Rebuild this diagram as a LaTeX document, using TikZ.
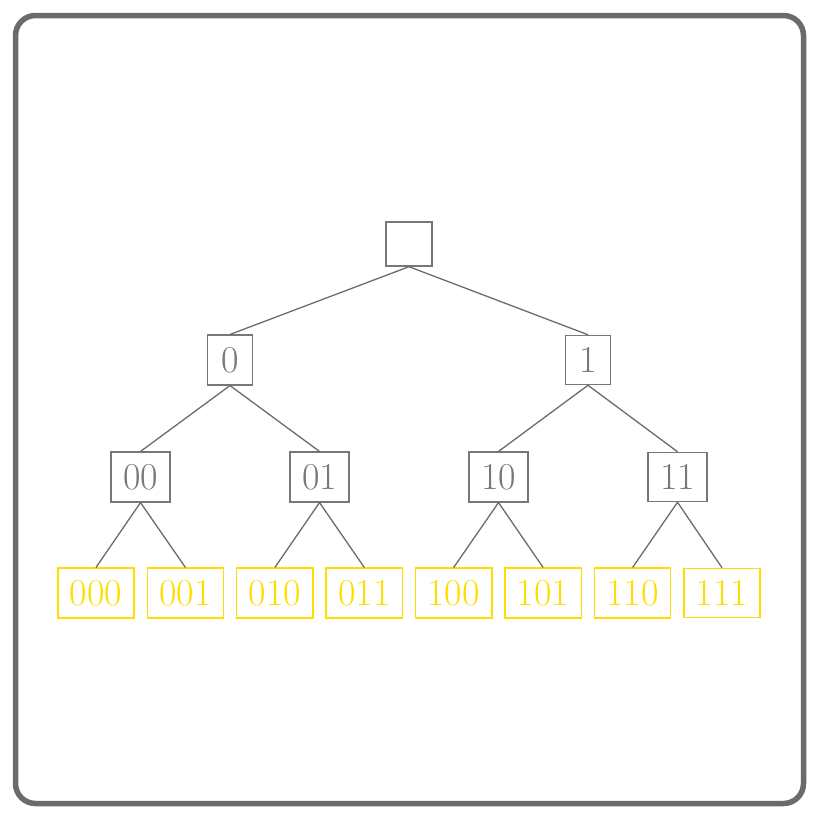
\documentclass[tikz,border=0pt]{standalone}
\usepackage{tikz}
\definecolor{framegray}{HTML}{6B6B6B}
\definecolor{nodegray}{HTML}{777777}
\definecolor{leafyellow}{HTML}{FFDD00}
\begin{document}
\begin{tikzpicture}[x=1pt,y=-1pt,
  treebox/.style={draw=nodegray, text=nodegray, line width=1.4pt, inner sep=12pt,
    font=\fontsize{38}{45}\selectfont},
  leafbox/.style={draw=leafyellow, text=leafyellow, line width=1.4pt, inner sep=12pt,
    font=\fontsize{38}{45}\selectfont},
  branch/.style={draw=framegray, line width=1.3pt}]
\useasboundingbox (0,0) rectangle (819,819);
\draw[framegray, line width=5.5pt, rounded corners=20pt] (15.5,15.5) rectangle (803.5,803.5);

% root and inner levels
\node[treebox, minimum width=46pt, minimum height=44pt] (r) at (409,244) {};
\node[treebox, minimum width=45pt] (n0) at (230,360) {0};
\node[treebox, minimum width=45pt] (n1) at (588,360) {1};
\node[treebox] (n00) at (140.5,477) {00};
\node[treebox] (n01) at (319.5,477) {01};
\node[treebox] (n10) at (498.5,477) {10};
\node[treebox] (n11) at (677.5,477) {11};

% leaves
\node[leafbox] (l000) at (96,593) {000};
\node[leafbox] (l001) at (185.4,593) {001};
\node[leafbox] (l010) at (274.9,593) {010};
\node[leafbox] (l011) at (364.3,593) {011};
\node[leafbox] (l100) at (453.7,593) {100};
\node[leafbox] (l101) at (543.1,593) {101};
\node[leafbox] (l110) at (632.6,593) {110};
\node[leafbox] (l111) at (722,593) {111};

% branches
\foreach \p/\c in {r/n0, r/n1, n0/n00, n0/n01, n1/n10, n1/n11,
                   n00/l000, n00/l001, n01/l010, n01/l011,
                   n10/l100, n10/l101, n11/l110, n11/l111}
  \draw[branch] (\p.south) -- (\c.north);
\end{tikzpicture}
\end{document}
